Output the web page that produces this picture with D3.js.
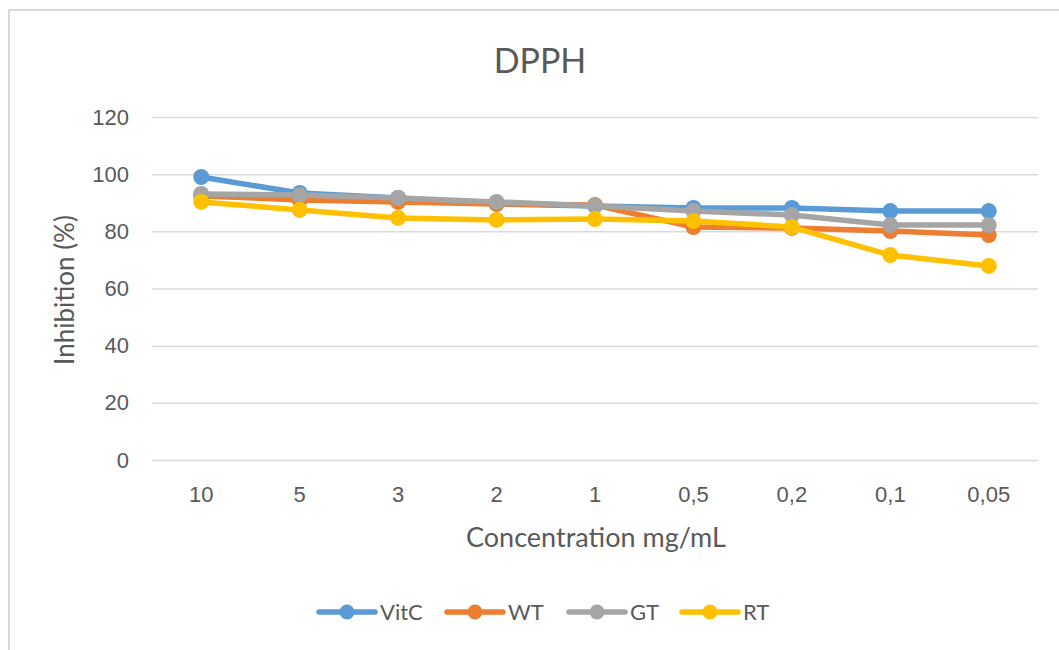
<!DOCTYPE html>
<html><head><meta charset="utf-8">
<script src="https://cdn.jsdelivr.net/npm/d3@7"></script>
<style>body{margin:0;background:#fff;}svg{display:block;font-family:Lato,"Open Sans",sans-serif;}</style>
</head><body>
<svg id="c" width="1059" height="650"></svg>
<script>
const categories = ["10","5","3","2","1","0,5","0,2","0,1","0,05"];
const vitC = [99.0, 93.4, 91.7, 89.6, 88.9, 88.2, 88.2, 87.1, 87.1];
const wt   = [92.4, 91.0, 90.3, 89.6, 89.2, 81.5, 81.2, 80.1, 78.7];
const gt   = [93.1, 92.7, 91.7, 90.3, 88.9, 87.1, 85.7, 82.2, 82.2];
const rt   = [90.3, 87.5, 84.7, 84.0, 84.3, 83.6, 81.5, 71.7, 67.9];
const seriesNames = ["VitC","WT","GT","RT"];
const seriesColors = ["#5B9BD5","#ED7D31","#A5A5A5","#FFC000"];
const yTicks = [0,20,40,60,80,100,120];
const chartTitle = "DPPH";
const xTitle = "Concentration mg/mL";
const yTitle = "Inhibition (%)";

(function(){
const series = [vitC, wt, gt, rt].map((v,i)=>({name:seriesNames[i], color:seriesColors[i], values:v}));
const svg = d3.select("#c");
const mLeft = 152, mRight = 1038, mTop = 117, mBottom = 460;

svg.append("rect").attr("x",9).attr("y",10).attr("width",1100).attr("height",700)
  .attr("fill","#fff").attr("stroke","#d9d9d9").attr("stroke-width",2);

const x = d3.scaleBand().domain(categories).range([mLeft,mRight]);
const y = d3.scaleLinear().domain([0,120]).range([mBottom,mTop]);

const gy = svg.append("g").attr("transform",`translate(${mLeft},0)`)
  .call(d3.axisLeft(y).tickValues(yTicks).tickSize(-(mRight-mLeft)).tickPadding(23));
gy.select(".domain").remove();
gy.selectAll(".tick line").attr("stroke","#d9d9d9").attr("stroke-width",1.5);
gy.selectAll(".tick text").attr("fill","#595959").style("font-size","22px");

const gx = svg.append("g").attr("transform",`translate(0,${mBottom})`)
  .call(d3.axisBottom(x).tickSize(0).tickPadding(26));
gx.select(".domain").remove();
gx.selectAll(".tick text").attr("fill","#595959").style("font-size","22px");

svg.append("text").attr("x",540).attr("y",73).attr("text-anchor","middle")
  .attr("fill","#595959").style("font-size","34px").text(chartTitle);
svg.append("text").attr("x",596).attr("y",547).attr("text-anchor","middle")
  .attr("fill","#595959").style("font-size","27px").text(xTitle);
svg.append("text").attr("transform","translate(65,290) rotate(-90)").attr("text-anchor","middle")
  .attr("dy","0.35em").attr("fill","#595959").style("font-size","26px").text(yTitle);

const line = d3.line().x((d,i)=>x(categories[i])+x.bandwidth()/2).y(d=>y(d));
series.forEach(s=>{
  const g = svg.append("g");
  g.append("path").attr("d",line(s.values)).attr("fill","none").attr("stroke",s.color)
    .attr("stroke-width",5.5).attr("stroke-linejoin","round").attr("stroke-linecap","round");
  g.selectAll("circle").data(s.values).join("circle")
    .attr("cx",(d,i)=>x(categories[i])+x.bandwidth()/2).attr("cy",d=>y(d))
    .attr("r",8).attr("fill",s.color);
});

const legX = [317, 445, 567, 680];
const leg = svg.append("g");
series.forEach((s,i)=>{
  const g = leg.append("g").attr("transform",`translate(${legX[i]},612)`);
  g.append("line").attr("x1",2).attr("x2",58).attr("stroke",s.color).attr("stroke-width",5.5).attr("stroke-linecap","round");
  g.append("circle").attr("cx",30).attr("r",7.5).attr("fill",s.color);
  g.append("text").attr("x",63).attr("dy","0.36em").attr("fill","#595959").style("font-size","22px").text(s.name);
});
})();
</script>
</body></html>
